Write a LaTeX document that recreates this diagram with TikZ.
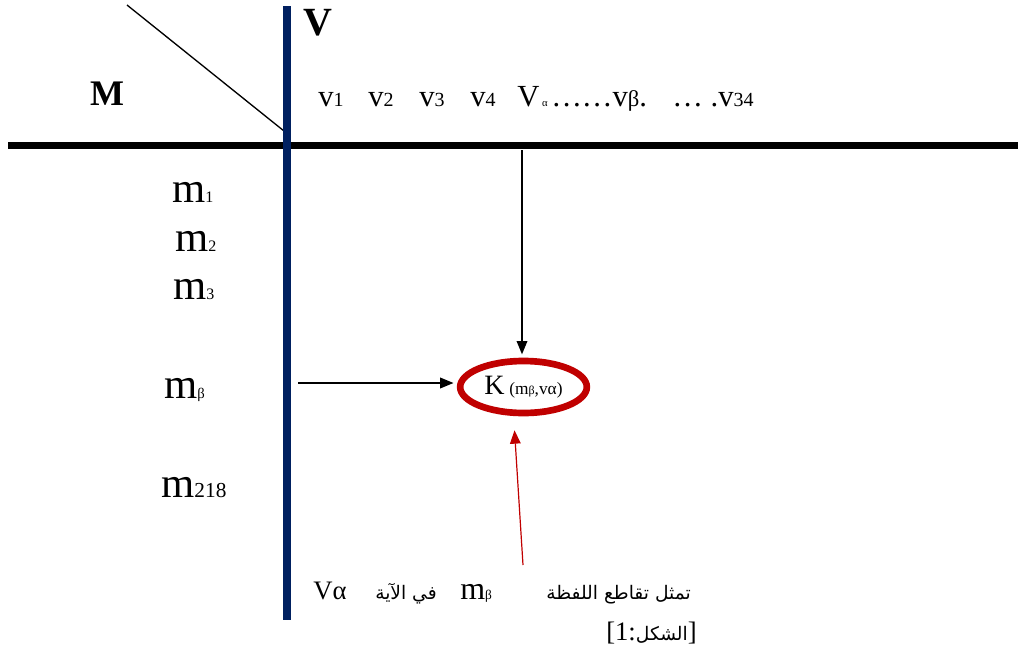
\documentclass[tikz,border=0pt]{standalone}
\usepackage{fontspec}
\setmainfont{Liberation Serif}
\newfontfamily\arabicfont[Script=Arabic]{DejaVu Sans}
\TeXXeTstate=1
\usetikzlibrary{arrows.meta,shapes.geometric}
\definecolor{axisblue}{HTML}{002060}
\definecolor{cellred}{HTML}{C00000}
\newcommand{\smallsub}[2]{{\fontsize{#1}{#1}\selectfont #2}}
\tikzset{
    axislabel/.style={inner sep=0pt, font=\fontsize{30}{30}\selectfont\bfseries},
    rowlabel/.style={anchor=base west, inner sep=0pt, font=\fontsize{32}{32}\selectfont},
    collabel/.style={anchor=base west, inner sep=0pt, font=\fontsize{23}{23}\selectfont},
    cellnode/.style={ellipse, draw=cellred, line width=5pt, minimum width=95pt, minimum height=39pt, inner sep=0pt, font=\fontsize{21}{21}\selectfont},
    tablearrow/.style={-{Triangle[length=10pt, width=8pt]}, line width=1pt, shorten >=2.5pt},
    notearrow/.style={-{Triangle[length=10pt, width=8pt]}, line width=0.9pt, color=cellred},
    notetext/.style={anchor=base west, inner sep=0pt, font=\fontsize{20}{20}\selectfont},
    arabictext/.style={anchor=base west, inner sep=0pt, font=\arabicfont\fontsize{14}{14}\selectfont}
}
\begin{document}
\begin{tikzpicture}[x=0.75pt, y=-0.75pt]
        \useasboundingbox (0,0) rectangle (1018,653);
        \draw[line width=1pt] (127,5) -- (284,131);
        \draw[line width=5.25pt] (8,145) -- (1018,145);
        \draw[axisblue, line width=5.6pt] (287,6) -- (287,620);
        \node[axislabel, font=\fontsize{27}{27}\selectfont\bfseries] (mhead) at (107,94) {M};
        \node[axislabel] (vhead) at (318,23) {V};
        \foreach \i/\x in {1/318,2/368,3/419,4/470}
            \node[collabel] (v\i) at (\x,106) {v\smallsub{15}{\i}};
        \node[collabel] (valpha) at (517,106) {V\smallsub{8}{ α}};
        \node[collabel] (vbeta) at (551,106) {……v\smallsub{17}{β}.};
        \node[collabel] (vlast) at (672,106) {… .v\smallsub{15}{34}};
        \foreach \j/\x/\y in {1/172/202,2/175/251,3/173/299}
            \node[rowlabel] (m\j) at (\x,\y) {m\smallsub{12}{\j}};
        \node[rowlabel] (mbeta) at (164,398) {m\smallsub{11}{β}};
        \node[rowlabel] (mlast) at (161,497) {m\smallsub{16}{218}};
        \node[cellnode] (kcell) at (523.5,387) {K\,\smallsub{13}{(m\smallsub{9}{β},v\smallsub{13}{α})}};
        \coordinate (vdrop) at (522,150);
        \coordinate (mdrop) at (298,383);
        \coordinate (notefoot) at (523,565);
        \draw[tablearrow] (vdrop) -- (vdrop |- kcell.north);
        \draw[tablearrow] (mdrop) -- (mdrop -| kcell.west);
        \draw[notearrow] (notefoot) -- ([shift={(-9,14)}]kcell.south);
        \node[notetext] (capv) at (313,599) {Vα};
        \node[arabictext] (capayah) at (375,599) {\beginR في الآية\endR};
        \node[notetext, font=\fontsize{24}{24}\selectfont] (capm) at (460,599) {m\smallsub{10}{β}};
        \node[arabictext] (capphrase) at (546,599) {\beginR تمثل تقاطع اللفظة\endR};
        \node[notetext] (capfig) at (606,640) {[1:{\arabicfont\fontsize{14}{14}\selectfont\beginR الشكل\endR}]};
    \end{tikzpicture}
\end{document}
